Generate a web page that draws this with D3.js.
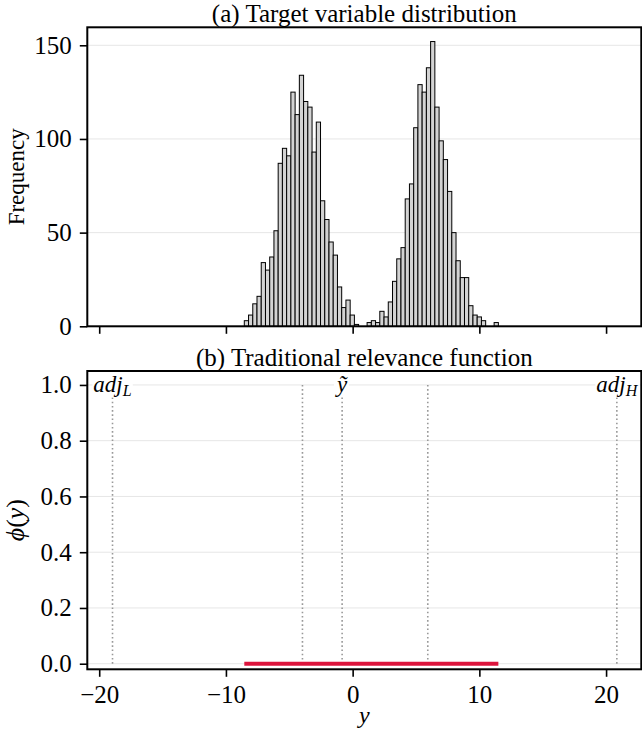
<!DOCTYPE html>
<html>
<head>
<meta charset="utf-8">
<script src="https://cdn.jsdelivr.net/npm/d3@7"></script>
<style>
  body { margin: 0; background: #fff; }
  svg text { font-family: "Liberation Serif", "Times New Roman", serif; fill: #000; }
</style>
</head>
<body>
<div id="chart"></div>
<script>
// data
// histogram of the target variable: 60 equal bins between yMin and yMax
var yMin = -8.55, yMax = 11.5;
var counts = [3, 6, 12, 16, 34, 30, 37, 51, 87, 95, 91, 125, 113, 134, 120, 117, 93, 109, 67, 57,
              45, 38, 21, 10, 14, 6, 1, 0, 0, 2, 3, 2, 8, 5, 13, 24, 36, 42, 68, 76,
              106, 129, 125, 138, 152, 117, 99, 89, 72, 50, 35, 26, 26, 11, 6, 5, 3, 0, 0, 2];
var xTicks = [-20, -10, 0, 10, 20];
var freqTicks = [0, 50, 100, 150];
var phiTicks = [0, 0.2, 0.4, 0.6, 0.8, 1.0];

// relevance function (flat at zero over the data range)
var phiX = [-8.55, 11.5];
var phiY = [0, 0];

// reference lines: adj_L, Q1, median, Q3, adj_H
var vlineX = [-18.95, -3.96, -0.83, 5.93, 20.85];
var vlineLabels = [
  {x: -18.95, name: "adj", sub: "L"},
  {x: -0.83, name: "ỹ", sub: null},
  {x: 20.85, name: "adj", sub: "H"}
];

var width = 642, height = 734;
var left = 87.3, right = 641.3;
var topPanel = {y0: 27.3, y1: 326.3};
var botPanel = {y0: 371, y1: 669.3};

var svg = d3.select("#chart").append("svg")
    .attr("width", width)
    .attr("height", height);

var x = d3.scaleLinear().domain([-20.94, 22.78]).range([left, right]);
var yFreq = d3.scaleLinear().domain([0, 159.6]).range([topPanel.y1, topPanel.y0]);
var yPhi = d3.scaleLinear().domain([-0.02, 1.05]).range([botPanel.y1, botPanel.y0]);

var tickFont = "25px", titleFont = "25px";

function styleAxis(g) {
  g.select(".domain").remove();
  g.selectAll(".tick line").attr("stroke", "#000").attr("stroke-width", 1.6);
  g.selectAll(".tick text").style("font-size", tickFont).attr("fill", "#000");
}

///////////// (a) histogram /////////////
var gA = svg.append("g");

// gridlines
gA.selectAll(".grid")
    .data(freqTicks)
  .enter().append("line")
    .attr("x1", left).attr("x2", right)
    .attr("y1", d => yFreq(d)).attr("y2", d => yFreq(d))
    .attr("stroke", "#e6e6e6").attr("stroke-width", 1);

var binW = (yMax - yMin) / counts.length;
gA.selectAll(".bar")
    .data(counts)
  .enter().append("rect")
    .attr("class", "bar")
    .attr("x", (d, i) => x(yMin + i * binW))
    .attr("width", (d, i) => x(yMin + (i + 1) * binW) - x(yMin + i * binW))
    .attr("y", d => yFreq(d))
    .attr("height", d => yFreq(0) - yFreq(d))
    .attr("fill", d => d > 0 ? "#d3d3d3" : "none")
    .attr("stroke", d => d > 0 ? "#000" : "none")
    .attr("stroke-width", 1);

gA.append("g")
    .attr("transform", "translate(0," + topPanel.y1 + ")")
    .call(d3.axisBottom(x).tickValues(xTicks).tickSize(7.5).tickFormat(""))
    .call(styleAxis);

gA.append("g")
    .attr("transform", "translate(" + left + ",0)")
    .call(d3.axisLeft(yFreq).tickValues(freqTicks).tickSize(7.5).tickPadding(8))
    .call(styleAxis);

gA.append("rect")
    .attr("x", left).attr("y", topPanel.y0)
    .attr("width", right - left).attr("height", topPanel.y1 - topPanel.y0)
    .attr("fill", "none").attr("stroke", "#000").attr("stroke-width", 2);

gA.append("text")
    .attr("x", (left + right) / 2).attr("y", topPanel.y0 - 5.5)
    .attr("text-anchor", "middle")
    .style("font-size", titleFont)
    .text("(a) Target variable distribution");

gA.append("text")
    .attr("transform", "translate(23.5," + (topPanel.y0 + topPanel.y1) / 2 + ") rotate(-90)")
    .attr("text-anchor", "middle")
    .style("font-size", "23px")
    .text("Frequency");

///////////// (b) relevance function /////////////
var gB = svg.append("g");

gB.selectAll(".grid")
    .data(phiTicks)
  .enter().append("line")
    .attr("x1", left).attr("x2", right)
    .attr("y1", d => yPhi(d)).attr("y2", d => yPhi(d))
    .attr("stroke", "#e6e6e6").attr("stroke-width", 1);

gB.selectAll(".vline")
    .data(vlineX)
  .enter().append("line")
    .attr("x1", d => x(d)).attr("x2", d => x(d))
    .attr("y1", yPhi(0)).attr("y2", yPhi(1))
    .attr("stroke", "#999").attr("stroke-width", 1.6)
    .attr("stroke-dasharray", "1.6,2.6");

var line = d3.line().x(d => x(d[0])).y(d => yPhi(d[1]));
gB.append("path")
    .datum(d3.zip(phiX, phiY))
    .attr("d", line)
    .attr("fill", "none")
    .attr("stroke", "#dc143c")
    .attr("stroke-width", 4);

// labels on top of reference lines, with white boxes
vlineLabels.forEach(function(l) {
  var g = gB.append("g");
  var t = g.append("text")
      .attr("x", x(l.x)).attr("y", yPhi(1))
      .attr("dy", "0.32em")
      .attr("text-anchor", "middle")
      .style("font-size", "23px")
      .style("font-style", "italic");
  t.append("tspan").text(l.name);
  if (l.sub) {
    t.append("tspan").attr("dy", "0.25em").style("font-size", "16px").text(l.sub);
  }
  var bb = t.node().getBBox();
  g.insert("rect", "text")
      .attr("x", bb.x - 1).attr("y", bb.y + 2)
      .attr("width", bb.width + 2).attr("height", bb.height - 4)
      .attr("fill", "#fff");
});

gB.append("g")
    .attr("transform", "translate(0," + botPanel.y1 + ")")
    .call(d3.axisBottom(x).tickValues(xTicks).tickSize(7.5).tickPadding(8.5).tickFormat(d3.format("d")))
    .call(styleAxis);

gB.append("g")
    .attr("transform", "translate(" + left + ",0)")
    .call(d3.axisLeft(yPhi).tickValues(phiTicks).tickSize(7.5).tickPadding(8).tickFormat(d3.format(".1f")))
    .call(styleAxis);

gB.append("rect")
    .attr("x", left).attr("y", botPanel.y0)
    .attr("width", right - left).attr("height", botPanel.y1 - botPanel.y0)
    .attr("fill", "none").attr("stroke", "#000").attr("stroke-width", 2);

gB.append("text")
    .attr("x", (left + right) / 2).attr("y", botPanel.y0 - 5.5)
    .attr("text-anchor", "middle")
    .style("font-size", titleFont)
    .text("(b) Traditional relevance function");

var phiLabel = gB.append("text")
    .attr("transform", "translate(24," + (botPanel.y0 + botPanel.y1) / 2 + ") rotate(-90)")
    .attr("text-anchor", "middle")
    .style("font-size", "26px");
phiLabel.append("tspan").style("font-style", "italic").text("ϕ");
phiLabel.append("tspan").text("(");
phiLabel.append("tspan").style("font-style", "italic").text("y");
phiLabel.append("tspan").text(")");

gB.append("text")
    .attr("x", (left + right) / 2).attr("y", 723)
    .attr("text-anchor", "middle")
    .style("font-size", "24px")
    .style("font-style", "italic")
    .text("y");
</script>
</body>
</html>
